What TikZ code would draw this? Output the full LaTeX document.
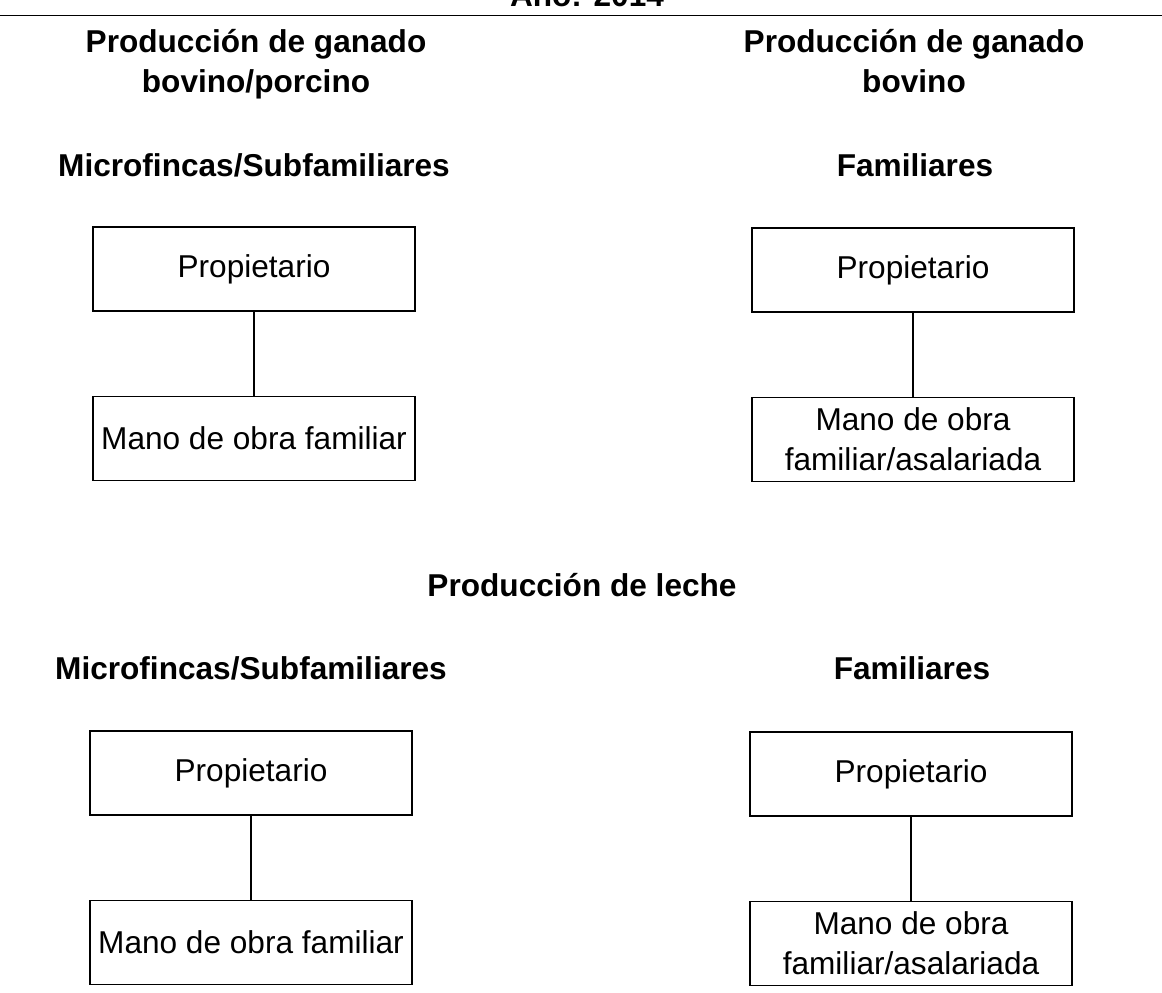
\documentclass[tikz,border=0pt]{standalone}
\usepackage{fontspec}
\setmainfont{Liberation Sans}
\usetikzlibrary{positioning}

\begin{document}
\begin{tikzpicture}[
        x=0.5pt, y=-0.5pt,
        node distance = 42pt and 5mm,
        box/.style = {draw, line width=0.75pt, minimum height=42pt, minimum width=161pt, inner sep=2pt, align=center, font=\fontsize{15.8}{20}\selectfont},
        heading/.style = {align=center, inner sep=0pt, anchor=base, font=\bfseries\fontsize{15.8}{20}\selectfont},
        link/.style = {line width=0.75pt},
    ]
        \useasboundingbox (0,0) rectangle (1162,992);
        % title and rule
        \node[heading] (year) at (587,6) {Año: 2014};
        \coordinate (ruleL) at (0,15.5);
        \coordinate (ruleR) at (1162,15.5);
        \draw[line width=0.9pt] (ruleL) -- (ruleR);
        % upper part
        \node[heading] (prodA) at (256,92) {Producción de ganado\\bovino/porcino};
        \node[heading] (prodB) at (914,92) {Producción de ganado\\bovino};
        \node[heading] (microA) at (254,176) {Microfincas/Subfamiliares};
        \node[heading] (famA) at (915,176) {Familiares};
        \node[box] (ownA) at (254,269) {Propietario};
        \node[box, below=of ownA] (workA) {Mano de obra familiar};
        \node[box] (ownB) at (913,270) {Propietario};
        \node[box, below=of ownB] (workB) {Mano de obra\\familiar/asalariada};
        % lower part
        \node[heading] (milk) at (582,596) {Producción de leche};
        \node[heading] (microC) at (251,679) {Microfincas/Subfamiliares};
        \node[heading] (famD) at (912,679) {Familiares};
        \node[box] (ownC) at (251,773) {Propietario};
        \node[box, below=of ownC] (workC) {Mano de obra familiar};
        \node[box] (ownD) at (911,774) {Propietario};
        \node[box, below=of ownD] (workD) {Mano de obra\\familiar/asalariada};
        \draw[link] (ownA) -- (workA);
        \draw[link] (ownB) -- (workB);
        \draw[link] (ownC) -- (workC);
        \draw[link] (ownD) -- (workD);
    \end{tikzpicture}
\end{document}
